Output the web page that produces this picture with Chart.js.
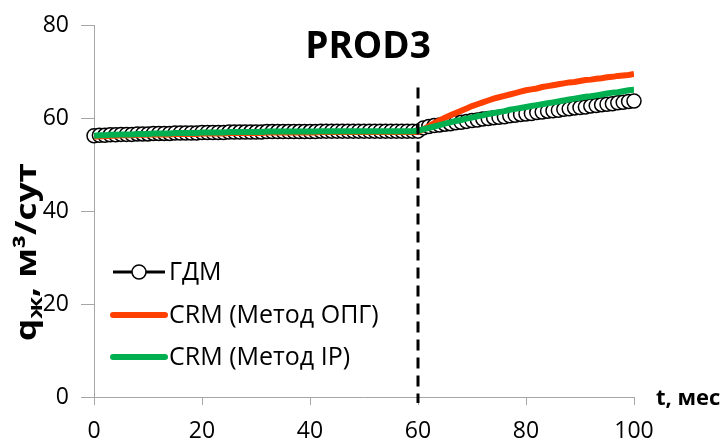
<!DOCTYPE html>
<html>
<head>
<meta charset="utf-8">
<title>PROD3</title>
<script src="https://cdn.jsdelivr.net/npm/chart.js@4.4.0/dist/chart.umd.min.js"></script>
<style>
  html, body { margin: 0; padding: 0; background: #fff; }
  #wrap { width: 727px; height: 448px; }
</style>
</head>
<body>
<div id="wrap"><canvas id="prod3-chart" width="727" height="448"></canvas></div>
<script>
// months of simulation
const months = [
  0, 1, 2, 3, 4, 5, 6, 7, 8, 9,
  10, 11, 12, 13, 14, 15, 16, 17, 18, 19,
  20, 21, 22, 23, 24, 25, 26, 27, 28, 29,
  30, 31, 32, 33, 34, 35, 36, 37, 38, 39,
  40, 41, 42, 43, 44, 45, 46, 47, 48, 49,
  50, 51, 52, 53, 54, 55, 56, 57, 58, 59,
  60, 61, 62, 63, 64, 65, 66, 67, 68, 69,
  70, 71, 72, 73, 74, 75, 76, 77, 78, 79,
  80, 81, 82, 83, 84, 85, 86, 87, 88, 89,
  90, 91, 92, 93, 94, 95, 96, 97, 98, 99,
  100
];

// liquid rate, m3/day - hydrodynamic model
const gdmRate = [
  56.3, 56.4, 56.4, 56.5, 56.5, 56.6, 56.6, 56.6, 56.7, 56.7,
  56.7, 56.8, 56.8, 56.8, 56.8, 56.9, 56.9, 56.9, 56.9, 56.9,
  57.0, 57.0, 57.0, 57.0, 57.0, 57.1, 57.1, 57.1, 57.1, 57.1,
  57.1, 57.1, 57.2, 57.2, 57.2, 57.2, 57.2, 57.2, 57.2, 57.2,
  57.2, 57.2, 57.3, 57.3, 57.3, 57.3, 57.3, 57.3, 57.3, 57.3,
  57.3, 57.3, 57.3, 57.3, 57.3, 57.3, 57.3, 57.3, 57.3, 57.3,
  57.3, 58.0, 58.3, 58.5, 58.6, 58.8, 58.9, 59.1, 59.2, 59.4,
  59.6, 59.7, 59.9, 60.0, 60.2, 60.3, 60.4, 60.6, 60.7, 60.9,
  61.0, 61.1, 61.3, 61.4, 61.6, 61.7, 61.8, 62.0, 62.1, 62.3,
  62.4, 62.5, 62.7, 62.8, 63.0, 63.1, 63.2, 63.4, 63.5, 63.7,
  63.8
];

// CRM, OPG method
const crmOpgRate = [
  56.1, 56.2, 56.2, 56.3, 56.3, 56.4, 56.4, 56.4, 56.5, 56.5,
  56.5, 56.6, 56.6, 56.6, 56.6, 56.7, 56.7, 56.7, 56.7, 56.7,
  56.8, 56.8, 56.8, 56.8, 56.8, 56.9, 56.9, 56.9, 56.9, 56.9,
  56.9, 56.9, 57.0, 57.0, 57.0, 57.0, 57.0, 57.0, 57.0, 57.0,
  57.0, 57.0, 57.1, 57.1, 57.1, 57.1, 57.1, 57.1, 57.1, 57.1,
  57.1, 57.1, 57.1, 57.1, 57.1, 57.1, 57.1, 57.1, 57.1, 57.1,
  57.1, 57.7, 58.4, 59.0, 59.6, 60.2, 60.7, 61.2, 61.7, 62.2,
  62.7, 63.1, 63.5, 63.9, 64.3, 64.6, 64.9, 65.2, 65.5, 65.8,
  66.1, 66.3, 66.5, 66.8, 67.0, 67.2, 67.4, 67.6, 67.8, 67.9,
  68.1, 68.3, 68.4, 68.6, 68.7, 68.9, 69.0, 69.2, 69.3, 69.4,
  69.6
];

// CRM, IP method
const crmIpRate = [
  56.3, 56.4, 56.4, 56.5, 56.5, 56.6, 56.6, 56.6, 56.7, 56.7,
  56.7, 56.8, 56.8, 56.8, 56.8, 56.9, 56.9, 56.9, 56.9, 56.9,
  57.0, 57.0, 57.0, 57.0, 57.0, 57.1, 57.1, 57.1, 57.1, 57.1,
  57.1, 57.1, 57.2, 57.2, 57.2, 57.2, 57.2, 57.2, 57.2, 57.2,
  57.2, 57.2, 57.3, 57.3, 57.3, 57.3, 57.3, 57.3, 57.3, 57.3,
  57.3, 57.3, 57.3, 57.3, 57.3, 57.3, 57.3, 57.3, 57.3, 57.3,
  57.4, 57.7, 58.0, 58.3, 58.6, 58.9, 59.2, 59.5, 59.7, 60.0,
  60.2, 60.5, 60.7, 61.0, 61.2, 61.4, 61.6, 61.9, 62.1, 62.3,
  62.5, 62.7, 62.9, 63.1, 63.3, 63.5, 63.7, 63.9, 64.1, 64.3,
  64.5, 64.7, 64.8, 65.0, 65.2, 65.4, 65.6, 65.7, 65.9, 66.1,
  66.2
];

const xTicks = [0, 20, 40, 60, 80, 100];
const yTicks = [0, 20, 40, 60, 80];

// history / forecast boundary
const switchMonth = [60, 60];
const switchRate = [66.7, -1.3];

const seriesNames = ['ГДМ', 'CRM (Метод ОПГ)', 'CRM (Метод IP)'];

const FONT = 'Open Sans';

function toPoints(xs, ys)
{
  return xs.map((x, i) => ({ x: x, y: ys[i] }));
}

// title, axis names and the in-plot legend
const overlayText = {
  id: 'overlayText',
  afterDraw(chart)
  {
    const ctx = chart.ctx;
    ctx.save();
    ctx.fillStyle = '#000';

    // well name
    ctx.font = 'bold 37px "' + FONT + '"';
    ctx.textAlign = 'center';
    ctx.textBaseline = 'middle';
    ctx.fillText('PROD3', 368, 47);

    // x axis name
    ctx.font = 'bold 22px "' + FONT + '"';
    ctx.textAlign = 'left';
    ctx.textBaseline = 'alphabetic';
    ctx.fillText('t, мес', 656, 405);

    // y axis name: q with subscript, rotated and stretched along the axis
    ctx.translate(36, 252);
    ctx.rotate(-Math.PI / 2);
    const big = 'bold 28px "' + FONT + '"';
    const small = 'bold 20px "' + FONT + '"';
    const parts = [['q', big, 0], ['ж', small, 6], [', м³/сут', big, 0]];
    let total = 0;
    parts.forEach(p => { ctx.font = p[1]; total += ctx.measureText(p[0]).width; });
    ctx.scale(178 / total, 1);
    let x = -total / 2;
    parts.forEach(p =>
    {
      ctx.font = p[1];
      ctx.fillText(p[0], x, p[2]);
      x += ctx.measureText(p[0]).width;
    });
    ctx.restore();

    // legend inside the plot
    ctx.save();
    const rows = [272, 315, 357];
    seriesNames.forEach((name, i) =>
    {
      const ds = chart.data.datasets.find(d => d.label === name);
      const y = rows[i];
      ctx.strokeStyle = ds.borderColor;
      ctx.lineWidth = ds.pointRadius ? 3 : ds.borderWidth;
      ctx.lineCap = ds.pointRadius ? 'butt' : 'round';
      ctx.beginPath();
      ctx.moveTo(113, y);
      ctx.lineTo(165, y);
      ctx.stroke();
      if (ds.pointRadius)
      {
        ctx.beginPath();
        ctx.arc(139, y, ds.pointRadius, 0, Math.PI * 2);
        ctx.fillStyle = ds.pointBackgroundColor;
        ctx.fill();
        ctx.lineWidth = ds.pointBorderWidth;
        ctx.strokeStyle = ds.pointBorderColor;
        ctx.stroke();
      }
      ctx.fillStyle = '#000';
      ctx.font = '25px "' + FONT + '"';
      ctx.textAlign = 'left';
      ctx.textBaseline = 'middle';
      ctx.fillText(ds.label, 169, y + 1);
    });
    ctx.restore();
  }
};

const axisColor = '#a6a6a6';

let ctx = document.getElementById('prod3-chart').getContext('2d');
let prodChart = new Chart(ctx,
{
  type: 'line',
  data:
  {
    datasets: [
    {
      label: 'switch',
      data: toPoints(switchMonth, switchRate),
      borderColor: '#000',
      borderWidth: 3,
      borderDash: [11, 7],
      pointRadius: 0,
      order: 0,
      clip: false,
    },
    {
      label: seriesNames[2],
      data: toPoints(months, crmIpRate),
      borderColor: '#00b050',
      borderWidth: 6,
      pointRadius: 0,
      tension: 0,
      order: 1,
    },
    {
      label: seriesNames[1],
      data: toPoints(months, crmOpgRate),
      borderColor: '#ff4000',
      borderWidth: 6,
      pointRadius: 0,
      tension: 0,
      order: 2,
    },
    {
      label: seriesNames[0],
      data: toPoints(months, gdmRate),
      borderColor: '#000',
      borderWidth: 2.5,
      pointRadius: 7,
      pointBackgroundColor: '#fff',
      pointBorderColor: '#000',
      pointBorderWidth: 1.5,
      tension: 0,
      order: 3,
      clip: false,
    }, ],
  },
  options:
  {
    responsive: false,
    animation: false,
    events: [],
    layout: { padding: { top: 19, right: 93, left: 0, bottom: 0 } },
    plugins:
    {
      legend: { display: false },
      tooltip: { enabled: false },
      title: { display: false },
    },
    scales:
    {
      x:
      {
        type: 'linear',
        min: 0,
        max: 100,
        afterBuildTicks: s => { s.ticks = xTicks.map(v => ({ value: v })); },
        afterFit: s => { s.height = 51; },
        ticks: { color: '#000', font: { family: FONT, size: 23 }, padding: 13, maxRotation: 0 },
        grid: { drawOnChartArea: false, tickLength: 8, color: axisColor },
        border: { color: axisColor, width: 1 },
      },
      y:
      {
        min: 0,
        max: 80,
        afterBuildTicks: s => { s.ticks = yTicks.map(v => ({ value: v })); },
        afterFit: s => { s.width = 94; },
        ticks: { color: '#000', font: { family: FONT, size: 23 }, padding: 12 },
        grid: { drawOnChartArea: false, tickLength: 13, color: axisColor },
        border: { color: axisColor, width: 1 },
      },
    },
  },
  plugins: [overlayText],
});
</script>
</body>
</html>
